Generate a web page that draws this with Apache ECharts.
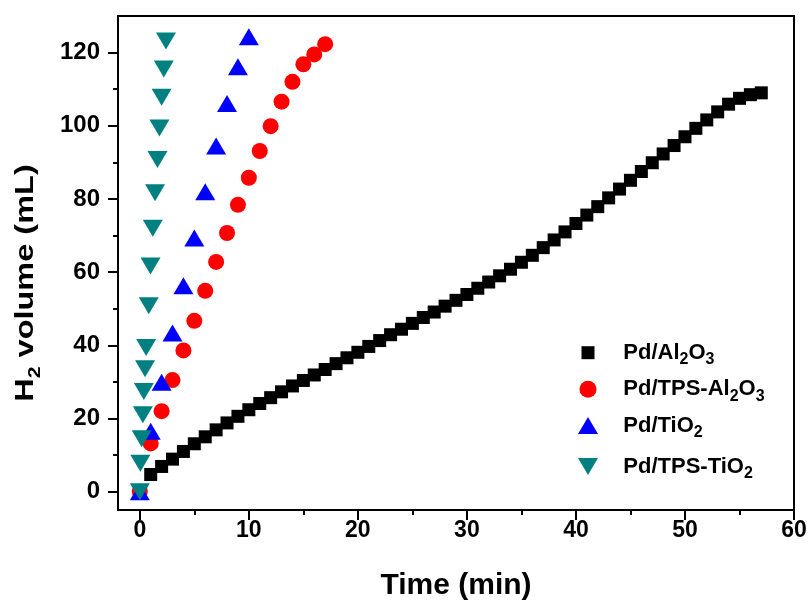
<!DOCTYPE html>
<html>
<head>
<meta charset="utf-8">
<script src="https://cdn.jsdelivr.net/npm/echarts@6/dist/echarts.min.js"></script>
<style>html,body{margin:0;padding:0;background:#fff}#c{width:810px;height:600px}</style>
</head>
<body>
<div id="c"></div>
<script>
// ---------------- data ----------------
const seriesNames = ['Pd/Al2O3', 'Pd/TPS-Al2O3', 'Pd/TiO2', 'Pd/TPS-TiO2'];

const alTime = [0,1,2,3,4,5,6,7,8,9,10,11,12,13,14,15,16,17,18,19,20,21,22,23,24,25,26,27,28,29,
  30,31,32,33,34,35,36,37,38,39,40,41,42,43,44,45,46,47,48,49,50,51,52,53,54,55,56,57];
const alVolume = [0,4.7,6.9,8.9,11.0,13.1,15.0,16.9,18.8,20.6,22.4,24.1,25.7,27.3,28.9,30.4,31.9,33.4,35.0,36.6,
  38.1,39.7,41.3,42.9,44.4,46.0,47.6,49.1,50.7,52.3,53.9,55.6,57.3,59.0,60.8,62.7,64.6,66.7,68.8,71.0,
  73.3,75.6,77.9,80.3,82.7,85.1,87.5,89.9,92.3,94.6,97.0,99.3,101.6,103.8,105.9,107.5,108.5,109.0];

const tpsAlTime = [0,1,2,3,4,5,6,7,8,9,10,11,12,13,14,15,16,17];
const tpsAlVolume = [0,13.2,22.0,30.5,38.6,46.7,54.9,62.8,70.7,78.4,85.8,93.1,99.9,106.6,112.0,116.8,119.5,122.3];

const tiTime = [0,1,2,3,4,5,6,7,8,9,10];
const tiVolume = [0,16.5,29.9,43.4,56.3,69.3,82.0,94.5,106.1,116.1,124.3];

const tpsTiTime = [0,0.05,0.17,0.28,0.37,0.48,0.58,0.82,0.98,1.19,1.4,1.62,1.8,2.0,2.2,2.4];
const tpsTiVolume = [0,7.8,14.5,21.0,27.4,33.6,39.4,50.8,61.7,72.0,81.7,90.8,99.4,107.8,115.5,123.2];

const xTickValues = [0,10,20,30,40,50,60];
const xMinorTickValues = [5,15,25,35,45,55];
const yTickValues = [0,20,40,60,80,100,120];
const yMinorTickValues = [10,30,50,70,90,110];

const xTitle = 'Time (min)';
const yTitleParts = ['H', '2', ' volume (mL)'];

// ---------------- styling ----------------
const FONT = '"Liberation Sans", Arial, Helvetica, sans-serif';
const colors = ['#000000', '#ff0000', '#0000ff', '#008080'];
const symbols = ['rect', 'circle', 'triangle', 'triangle'];
const symbolSizes = [13, 16, [20, 17], [20, 17]];
const symbolRotates = [0, 0, 0, 180];
const legendIcons = ['rect', 'circle', 'triangle', 'path://M0,0L20,0L10,17Z'];
const legendIconSize = [[13,13],[17,17],[20,17],[20,17]];
const legendRowCenter = [352.7, 389.3, 425.5, 466.5];
const legendTextBlock = 30; // height of the rich text block (main line + lowered subscript)

function toRich(name) {
  return name.split(/(\d)/).filter(s => s.length).map(p => /^\d$/.test(p) ? '{s|' + p + '}' : '{a|' + p + '}').join('');
}

const pairs = [[alTime, alVolume], [tpsAlTime, tpsAlVolume], [tiTime, tiVolume], [tpsTiTime, tpsTiVolume]];

const series = seriesNames.map((n, i) => ({
  name: n,
  type: 'scatter',
  xAxisIndex: 0,
  yAxisIndex: 0,
  symbol: symbols[i],
  symbolSize: symbolSizes[i],
  symbolRotate: symbolRotates[i],
  itemStyle: { color: colors[i], opacity: 1 },
  emphasis: { disabled: true },
  data: pairs[i][0].map((t, k) => [t, pairs[i][1][k]]),
  z: 2 + i
}));

const legends = seriesNames.map((n, i) => {
  const iw = legendIconSize[i][0], ih = legendIconSize[i][1];
  return {
    show: true,
    orient: 'vertical',
    left: 588 - iw / 2,
    top: legendRowCenter[i] - Math.max(ih, legendTextBlock) / 2,
    padding: 0,
    itemWidth: iw,
    itemHeight: ih,
    selectedMode: false,
    data: [{ name: n, icon: legendIcons[i], itemStyle: { color: colors[i] } }],
    formatter: name => '{sp| }' + toRich(name),
    textStyle: {
      rich: {
        sp: { width: 30.3 - iw / 2, fontSize: 22, lineHeight: 22 },
        a: { fontSize: 22, fontWeight: 'bold', fontFamily: FONT, color: '#000', lineHeight: 22 },
        s: { fontSize: 16, fontWeight: 'bold', fontFamily: FONT, color: '#000', lineHeight: 16, padding: [14, 0, 0, 0] }
      }
    }
  };
});

const axisLineStyle = { color: '#000', width: 2 };

const option = {
  animation: false,
  backgroundColor: '#ffffff',
  grid: {
    left: 118, right: 16, top: 16, bottom: 90,
    show: true, borderColor: '#000', borderWidth: 2, backgroundColor: 'transparent',
    containLabel: false, outerBoundsMode: 'none'
  },
  legend: legends,
  xAxis: [
    {
      type: 'value', min: -2, max: 60, position: 'bottom',
      name: xTitle, nameLocation: 'middle', nameGap: 61,
      nameTextStyle: { fontSize: 30, fontWeight: 'bold', fontFamily: FONT, color: '#000' },
      axisLine: { show: true, onZero: false, lineStyle: axisLineStyle },
      axisTick: { show: true, inside: false, length: 10, customValues: xTickValues, lineStyle: axisLineStyle },
      axisLabel: { show: true, customValues: xTickValues, margin: 9, fontSize: 23, fontWeight: 'bold', fontFamily: FONT, color: '#000' },
      splitLine: { show: false }
    },
    {
      type: 'value', min: -2, max: 60, position: 'bottom',
      axisLine: { show: false, onZero: false },
      axisTick: { show: true, inside: false, length: 5, customValues: xMinorTickValues, lineStyle: axisLineStyle },
      axisLabel: { show: false },
      splitLine: { show: false }
    }
  ],
  yAxis: [
    {
      type: 'value', min: -5, max: 130, position: 'left',
      axisLine: { show: true, onZero: false, lineStyle: axisLineStyle },
      axisTick: { show: true, inside: false, length: 10, customValues: yTickValues, lineStyle: axisLineStyle },
      axisLabel: { show: true, customValues: yTickValues, margin: 18, fontSize: 24, fontWeight: 'bold', fontFamily: FONT, color: '#000' },
      splitLine: { show: false }
    },
    {
      type: 'value', min: -5, max: 130, position: 'left',
      axisLine: { show: false, onZero: false },
      axisTick: { show: true, inside: false, length: 5, customValues: yMinorTickValues, lineStyle: axisLineStyle },
      axisLabel: { show: false },
      splitLine: { show: false }
    }
  ],
  graphic: [{
    type: 'text',
    x: 26, y: 283,
    rotation: Math.PI / 2,
    scaleX: 1.25,
    style: {
      text: '{a|' + yTitleParts[0] + '}{s|' + yTitleParts[1] + '}{a|' + yTitleParts[2] + '}',
      align: 'center',
      verticalAlign: 'middle',
      rich: {
        a: { fontSize: 26, fontWeight: 'bold', fontFamily: FONT, fill: '#000', color: '#000', lineHeight: 26 },
        s: { fontSize: 17, fontWeight: 'bold', fontFamily: FONT, fill: '#000', color: '#000', lineHeight: 17, padding: [18, 0, 0, 0] }
      }
    }
  }],
  series: series
};

const chart = echarts.init(document.getElementById('c'), null, { renderer: 'canvas' });
chart.setOption(option);
</script>
</body>
</html>
